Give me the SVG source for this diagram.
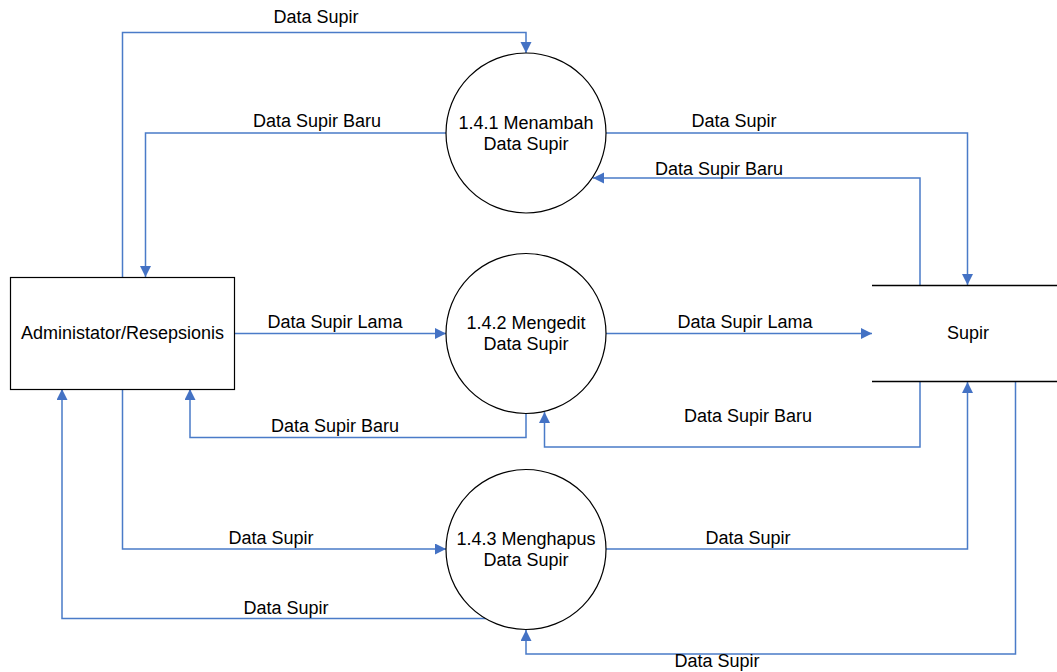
<svg xmlns="http://www.w3.org/2000/svg" width="1057" height="672" viewBox="0 0 1057 672">
<style>
text{font-family:"Liberation Sans",Arial,sans-serif;font-size:18px;fill:#000}
.lbl{text-anchor:middle}
.node{fill:#fff;stroke:#000;stroke-width:1.2}
.flow{fill:none;stroke:#4A7BC8;stroke-width:1.5;marker-end:url(#arr)}
.store{stroke:#000;stroke-width:1.5}
</style>
<defs>
<marker id="arr" markerUnits="userSpaceOnUse" markerWidth="12" markerHeight="12" refX="11" refY="5.5" orient="auto">
<path d="M0,0 L11,5.5 L0,11 z" fill="#4472C4"/>
</marker>
</defs>
<rect width="1057" height="672" fill="#fff"/>
<g id="connectors">
<polyline class="flow" points="122.5,277 122.5,32.5 526,32.5 526,53"/>
<polyline class="flow" points="446,133 145.5,133 145.5,277"/>
<polyline class="flow" points="606,133 967.5,133 967.5,285"/>
<polyline class="flow" points="920,285 920,178 593,178"/>
<polyline class="flow" points="234.5,333.5 446,333.5"/>
<polyline class="flow" points="606,333.5 872,333.5"/>
<polyline class="flow" points="526,413 526,437.5 190,437.5 190,389"/>
<polyline class="flow" points="920,382 920,447 544.5,447 544.5,412"/>
<polyline class="flow" points="122.5,389 122.5,549 446,549"/>
<polyline class="flow" points="606,549 967.5,549 967.5,382"/>
<polyline class="flow" points="486,618.5 62,618.5 62,389"/>
<polyline class="flow" points="1015.5,382 1015.5,654 526,654 526,630"/>
<text class="lbl" x="316" y="23">Data Supir</text>
<text class="lbl" x="317" y="127">Data Supir Baru</text>
<text class="lbl" x="734" y="127">Data Supir</text>
<text class="lbl" x="719" y="175">Data Supir Baru</text>
<text class="lbl" x="335" y="328">Data Supir Lama</text>
<text class="lbl" x="745" y="328">Data Supir Lama</text>
<text class="lbl" x="335" y="432">Data Supir Baru</text>
<text class="lbl" x="748" y="422">Data Supir Baru</text>
<text class="lbl" x="271" y="544">Data Supir</text>
<text class="lbl" x="748" y="544">Data Supir</text>
<text class="lbl" x="286" y="614">Data Supir</text>
<text class="lbl" x="717" y="667">Data Supir</text>
</g>
<g id="admin">
<rect class="node" x="10.5" y="277.5" width="224" height="112"/>
<text class="lbl" x="122.5" y="339">Administator/Resepsionis</text>
</g>
<g id="p141">
<circle class="node" cx="526" cy="133" r="80"/>
<text class="lbl" x="526" y="128.5">1.4.1 Menambah</text>
<text class="lbl" x="526" y="149.5">Data Supir</text>
</g>
<g id="p142">
<circle class="node" cx="526" cy="333.5" r="80"/>
<text class="lbl" x="526" y="328.5">1.4.2 Mengedit</text>
<text class="lbl" x="526" y="350">Data Supir</text>
</g>
<g id="p143">
<circle class="node" cx="526" cy="549.5" r="80"/>
<text class="lbl" x="526" y="544.5">1.4.3 Menghapus</text>
<text class="lbl" x="526" y="566">Data Supir</text>
</g>
<g id="supir">
<line class="store" x1="872" y1="285.5" x2="1057" y2="285.5"/>
<line class="store" x1="872" y1="381.5" x2="1057" y2="381.5"/>
<text class="lbl" x="968" y="339">Supir</text>
</g>
</svg>
